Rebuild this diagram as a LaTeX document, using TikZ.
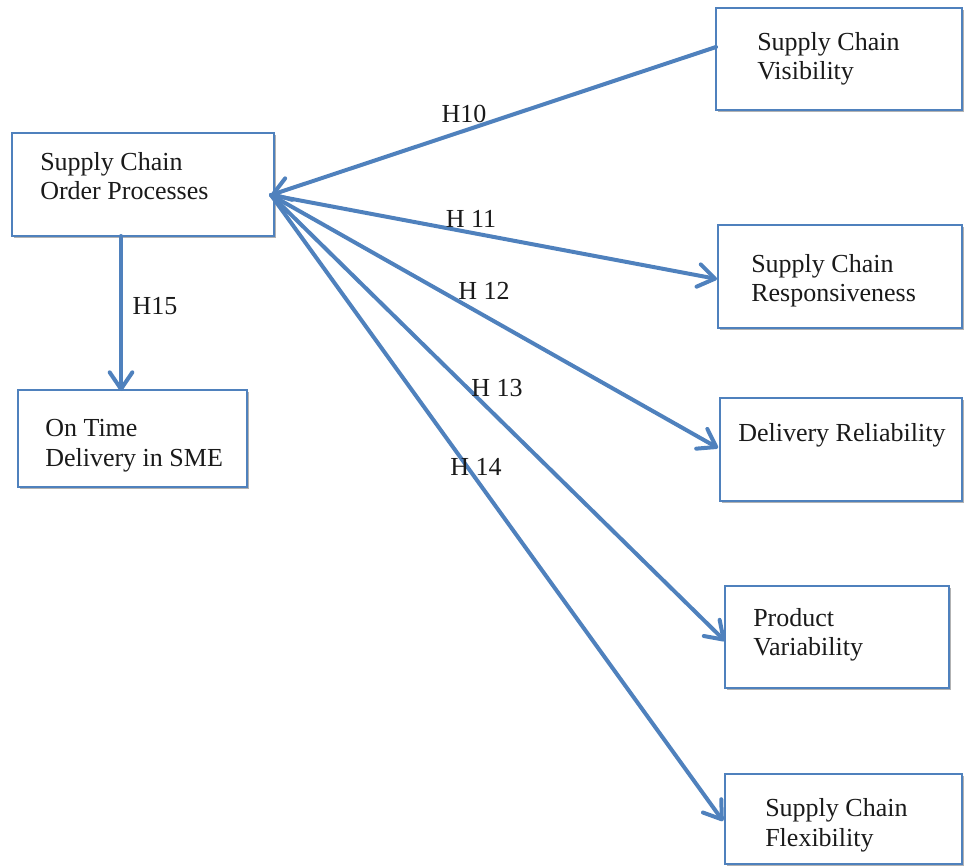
\documentclass[tikz,border=0pt]{standalone}
\usepackage{fontspec}
\setmainfont{Liberation Serif}
\usetikzlibrary{arrows.meta,shadows,fit}
\definecolor{linkblue}{HTML}{4F81BD}
\definecolor{inkgray}{HTML}{1A1A1A}

% an open chevron tip stroked with the line's own width
\pgfdeclarearrow{
  name = OpenVee,
  parameters = {\the\pgfarrowlength,\the\pgfarrowwidth},
  setup code = {
    \pgfarrowssettipend{.5\pgflinewidth}
    \pgfarrowssetlineend{-.5\pgflinewidth}
    \pgfarrowssetbackend{-\pgfarrowlength}
    \pgfarrowshullpoint{-\pgfarrowlength}{.5\pgfarrowwidth}
    \pgfarrowshullpoint{-\pgfarrowlength}{-.5\pgfarrowwidth}
    \pgfarrowshullpoint{.5\pgflinewidth}{0pt}
    \pgfarrowssavethe\pgfarrowlength
    \pgfarrowssavethe\pgfarrowwidth
  },
  drawing code = {
    \pgfsetdash{}{0pt}
    \pgfsetroundcap
    \pgfsetroundjoin
    \pgfpathmoveto{\pgfqpoint{-\pgfarrowlength}{.5\pgfarrowwidth}}
    \pgfpathlineto{\pgfpointorigin}
    \pgfpathlineto{\pgfqpoint{-\pgfarrowlength}{-.5\pgfarrowwidth}}
    \pgfusepathqstroke
  },
  defaults = {length=10pt, width=13pt}
}

\begin{document}
\begin{tikzpicture}[x=0.75pt,y=-0.75pt,
  box/.style={draw=linkblue, line width=1.4pt, fill=white, rectangle, inner sep=0pt,
    drop shadow={shadow xshift=1.2pt, shadow yshift=-1.2pt, opacity=0.3, fill=black}},
  lbl/.style={font=\fontsize{19.5}{23}\selectfont, text=inkgray, inner sep=0pt, anchor=base west},
  hyp/.style={font=\fontsize{19.5}{23}\selectfont, text=inkgray, inner sep=0pt},
  link/.style={draw=linkblue, line width=3pt, line cap=round,
    -{OpenVee[length=12.5pt,width=17pt]},
    preaction={draw=black, opacity=0.15, transform canvas={shift={(0.8pt,-0.8pt)}}}}
]
\useasboundingbox (0,0) rectangle (964,866);

% boxes
\node[box, fit={(12,133) (274,236)}] (ord) {};
\node[box, fit={(716,8) (962,110)}] (vis) {};
\node[box, fit={(718,225) (962,328)}] (resp) {};
\node[box, fit={(720,398) (962,501)}] (del) {};
\node[box, fit={(725,586) (949,688)}] (prod) {};
\node[box, fit={(725,774) (962,864)}] (flex) {};
\node[box, fit={(18,390) (247,487)}] (otd) {};

% box texts
\node[lbl] (ordA) at (40,171) {Supply Chain};
\node[lbl] (ordB) at (40,200) {Order Processes};
\node[lbl] (visA) at (757,51) {Supply Chain};
\node[lbl] (visB) at (757,80) {Visibility};
\node[lbl] (respA) at (751,273) {Supply Chain};
\node[lbl] (respB) at (751,302) {Responsiveness};
\node[lbl] (delA) at (738,441) {Delivery Reliability};
\node[lbl] (prodA) at (753,626) {Product};
\node[lbl] (prodB) at (753,655) {Variability};
\node[lbl] (flexA) at (765,816) {Supply Chain};
\node[lbl] (flexB) at (765,846) {Flexibility};
\node[lbl] (otdA) at (45,436) {On Time};
\node[lbl] (otdB) at (45,466) {Delivery in SME};

% connector ends on the box edges
\coordinate (hub) at (271,195);
\coordinate (visIn) at (716,47);
\coordinate (respIn) at (717,279);
\coordinate (delIn) at (718,448);
\coordinate (prodIn) at (725,641);
\coordinate (flexIn) at (723,821);
\coordinate (ordOut) at (121,236);
\coordinate (otdIn) at (121,391);

% connectors
\draw[link] (visIn) -- (hub);
\draw[link] (hub) -- (respIn);
\draw[link] (hub) -- (delIn);
\draw[link] (hub) -- (prodIn);
\draw[link] (hub) -- (flexIn);
\draw[link] (ordOut) -- (otdIn);

% hypothesis labels
\node[hyp] (h10) at (464,114) {H10};
\node[hyp] (h11) at (471,219) {H 11};
\node[hyp] (h12) at (484,291) {H 12};
\node[hyp] (h13) at (497,388) {H 13};
\node[hyp] (h14) at (476,467) {H 14};
\node[hyp] (h15) at (155,306) {H15};
\end{tikzpicture}
\end{document}
